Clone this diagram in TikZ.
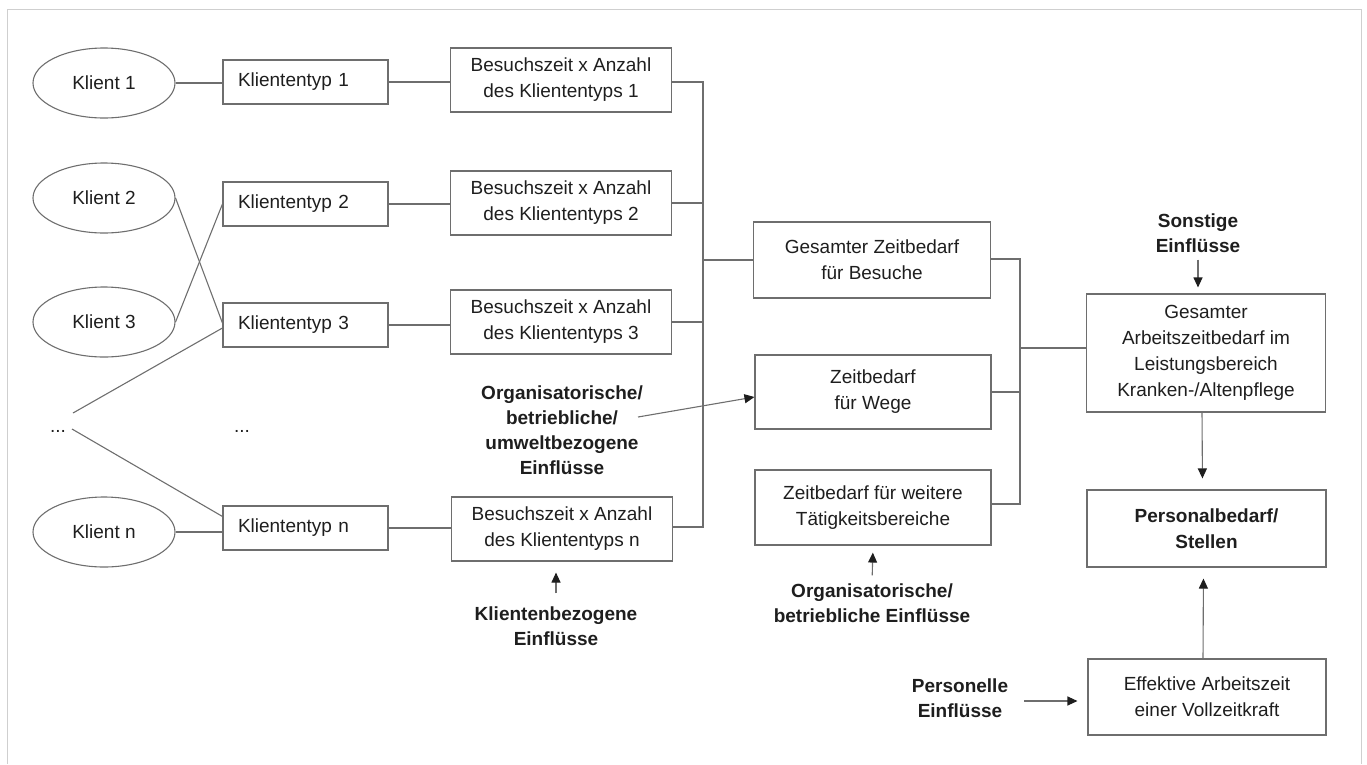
\documentclass[tikz,border=0pt]{standalone}
\usepackage{fontspec}
\setmainfont{Liberation Sans}
\usetikzlibrary{shapes.geometric,arrows.meta,calc}
\definecolor{ln}{HTML}{6E6E6E}
\definecolor{txt}{HTML}{1E1E1E}
\definecolor{frm}{HTML}{CFCFCF}
\begin{document}
\begin{tikzpicture}[x=1pt,y=-1pt,
  every node/.style={text=txt, font=\fontsize{19}{26}\selectfont},
  ell/.style={draw=ln, line width=1.1pt, ellipse, minimum width=142pt, minimum height=70pt, inner sep=0pt},
  box/.style={draw=ln, line width=1.1pt, align=center, inner sep=0pt},
  ktbox/.style={draw=ln, line width=1.1pt, text width=135pt, align=left, inner xsep=15pt, inner ysep=0pt, minimum height=44pt},
  infl/.style={align=center, inner sep=0pt, font=\fontsize{19}{25}\selectfont\bfseries},
  conn/.style={draw=ln, line width=1.1pt},
  arr/.style={draw=ln, line width=1.1pt, -{Triangle[length=10pt,width=9pt,color=txt]}}
]
\useasboundingbox (0,0) rectangle (1367,764);
% frame
\draw[frm, line width=1pt] (7.5,764) -- (7.5,9.5) -- (1361,9.5) -- (1361,764);

% clients
\node[ell] (k1) at (104,83) {Klient 1};
\node[ell] (k2) at (104,198) {Klient 2};
\node[ell] (k3) at (104,322) {Klient 3};
\node[ell] (kn) at (104,532) {Klient n};
\node[anchor=base] (dots1) at (58,432) {...};
\node[anchor=base] (dots2) at (242,432) {...};
\coordinate (d1) at (73,413);
\coordinate (d2) at (72,429);

% client types
\node[ktbox] (kt1) at (305.5,82) {Kliententyp 1};
\node[ktbox] (kt2) at (305.5,204) {Kliententyp 2};
\node[ktbox] (kt3) at (305.5,325) {Kliententyp 3};
\node[ktbox] (ktn) at (305.5,528) {Kliententyp n};

% visit time boxes
\node[box, minimum width=221pt, minimum height=64pt] (bz1) at (561,80) {Besuchszeit x Anzahl\\des Kliententyps 1};
\node[box, minimum width=221pt, minimum height=64pt] (bz2) at (561,203) {Besuchszeit x Anzahl\\des Kliententyps 2};
\node[box, minimum width=221pt, minimum height=64pt] (bz3) at (561,322) {Besuchszeit x Anzahl\\des Kliententyps 3};
\node[box, minimum width=221pt, minimum height=64pt] (bzn) at (562,529) {Besuchszeit x Anzahl\\des Kliententyps n};

% middle boxes
\node[box, minimum width=237pt, minimum height=76pt] (gz) at (872,260) {Gesamter Zeitbedarf\\für Besuche};
\node[box, minimum width=236pt, minimum height=74pt] (zw) at (873,392) {Zeitbedarf\\für Wege};
\node[box, minimum width=236pt, minimum height=75pt] (zt) at (873,507.5) {Zeitbedarf für weitere\\Tätigkeitsbereiche};

% right boxes
\node[box, minimum width=239pt, minimum height=118pt] (ga) at (1206,353) {Gesamter\\Arbeitszeitbedarf im\\Leistungsbereich\\Kranken-/Altenpflege};
\node[box, minimum width=239pt, minimum height=77pt, font=\fontsize{19}{26}\selectfont\bfseries] (pb) at (1206.5,528.5) {Personalbedarf/\\Stellen};
\node[box, minimum width=238pt, minimum height=76pt] (ea) at (1207,697) {Effektive Arbeitszeit\\einer Vollzeitkraft};

% influences
\node[infl] (org1) at (562,430) {Organisatorische/\\betriebliche/\\umweltbezogene\\Einflüsse};
\node[infl] (kb) at (556,626) {Klientenbezogene\\Einflüsse};
\node[infl] (org2) at (872,603) {Organisatorische/\\betriebliche Einflüsse};
\node[infl] (so) at (1198,233) {Sonstige\\Einflüsse};
\node[infl] (pe) at (960,698) {Personelle\\Einflüsse};

% client -> type
\draw[conn] (k1.east) -- (kt1.west |- k1.east);
\draw[conn] (k2.east) -- ($(kt3.west)+(0,-2)$);
\draw[conn] (k3.east) -- (kt2.west);
\draw[conn] ($(kt3.west)+(0,3)$) -- (d1);
\draw[conn] (d2) -- ($(ktn.north west)+(0,11)$);
\draw[conn] (kn.east) -- (ktn.west |- kn.east);

% type -> visit time
\draw[conn] (kt1.east) -- (kt1.east -| bz1.west);
\draw[conn] (kt2.east) -- (kt2.east -| bz2.west);
\draw[conn] (kt3.east) -- (kt3.east -| bz3.west);
\draw[conn] (ktn.east) -- (ktn.east -| bzn.west);

% left bus
\coordinate (b1) at (703,82);
\coordinate (bn) at (703,527);
\draw[conn] ($(bz1.east)+(0,2)$) -- (b1) -- (bn) -- ($(bzn.east)+(0,-2)$);
\draw[conn] (bz2.east) -- (bz2.east -| b1);
\draw[conn] (bz3.east) -- (bz3.east -| b1);
\draw[conn] (gz.west -| b1) -- (gz.west);

% right bus
\coordinate (r1) at (1020,259);
\coordinate (rn) at (1020,504);
\coordinate (gaw) at (1086.5,348);
\draw[conn] ($(gz.east)+(0,-1)$) -- (r1) -- (rn) -- ($(zt.east)+(0,-3.5)$);
\draw[conn] (zw.east) -- (zw.east -| r1);
\draw[conn] (gaw -| r1) -- (gaw);

% arrows
\coordinate (o1a) at (638,417);
\draw[arr] (o1a) -- ($(zw.west)+(0,5)$);
\draw[arr, shorten <=13pt, shorten >=11pt] (kb.north) -- (kb.north |- bzn.south);
\draw[arr, shorten <=8pt, shorten >=7pt] (org2.north) -- (zt.south);
\draw[arr, shorten <=7pt, shorten >=6pt] (so.south) -- (so.south |- ga.north);
\draw[arr, shorten >=11pt] ($(ga.south)+(-4,0)$) -- ($(pb.north)+(-4,0)$);
\draw[arr, shorten >=11pt] ($(ea.north)+(-4,0)$) -- ($(pb.south)+(-3,0)$);
\draw[arr, shorten <=16pt, shorten >=10pt] ($(pe.east)+(0,3)$) -- ($(ea.west)+(0,4)$);
\end{tikzpicture}
\end{document}
